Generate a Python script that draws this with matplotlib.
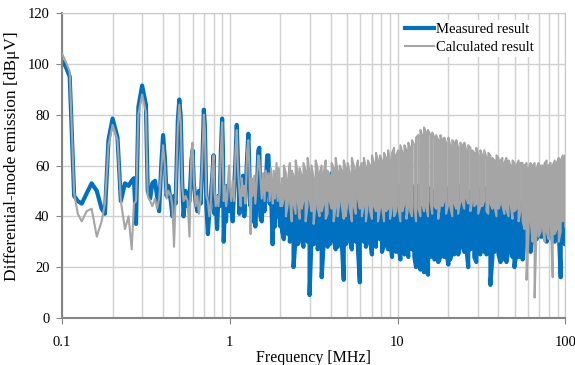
# differential-mode emission: measured vs calculated spectrum

import matplotlib
matplotlib.use("Agg")
import matplotlib.pyplot as plt
from matplotlib.ticker import FixedLocator, NullFormatter

plt.rcParams['font.family'] = ['Liberation Serif', 'DejaVu Serif']

# low band (0.1 - 2 MHz): single trace values [MHz], [dBuV]
freq_low = [0.100, 0.105, 0.111, 0.118, 0.124, 0.131, 0.140, 0.150, 0.161, 0.172,
            0.180, 0.189, 0.200, 0.214, 0.224, 0.237, 0.249, 0.260, 0.268, 0.276,
            0.285, 0.300, 0.316, 0.324, 0.335, 0.345, 0.358, 0.368, 0.379, 0.390,
            0.400, 0.410, 0.420, 0.430, 0.445, 0.455, 0.465, 0.475, 0.490, 0.500,
            0.510, 0.520, 0.530, 0.545, 0.560, 0.575, 0.590, 0.600, 0.610, 0.625,
            0.640, 0.655, 0.670, 0.685, 0.700, 0.710, 0.725, 0.740, 0.755, 0.770,
            0.785, 0.800, 0.810, 0.825, 0.840, 0.855, 0.870, 0.885, 0.900, 0.910,
            0.920, 0.935, 0.950, 0.965, 0.980, 0.990, 1.00, 1.02, 1.04, 1.06,
            1.08, 1.10, 1.12, 1.14, 1.16, 1.18, 1.20, 1.22, 1.24, 1.27,
            1.29, 1.31, 1.33, 1.35, 1.37, 1.40, 1.42, 1.45, 1.48, 1.50,
            1.52, 1.55, 1.58, 1.61, 1.64, 1.67, 1.70, 1.73, 1.76, 1.80,
            1.83, 1.86, 1.90, 1.93, 1.96, 2.00]
meas_low = [101, 99, 95, 48, 46, 45, 49, 53, 50, 43,
            41, 70, 78.5, 71, 46, 53, 52, 54, 55, 37,
            83, 91.5, 84, 50, 47, 53, 54, 48, 42, 60,
            72, 63, 48, 52, 46, 40, 48, 45, 78, 86,
            79, 54, 40, 50, 44, 46, 62, 66, 53, 46,
            42, 50, 45, 60, 82, 76, 44, 33, 42, 48,
            55, 64, 41, 46, 35, 48, 44, 66, 78.5, 66,
            30, 45, 38, 52, 44, 50, 42, 47, 38, 50,
            62, 76, 60, 41, 50, 44, 56, 40, 48, 64,
            72.5, 56, 44, 52, 38, 46, 36, 50, 66, 67,
            40, 38, 49, 42, 52, 64, 64, 45, 50, 29,
            44, 36, 48, 40, 52, 36]
calc_low = [104, 101, 97, 49, 41, 38, 42, 43, 32, 38,
            45, 68, 76, 70, 46, 35, 40, 27, 45, 46,
            80, 88, 81, 48, 46, 44, 47, 43, 47, 58,
            68, 60, 47, 50, 48, 44, 28, 47, 75, 84,
            77, 52, 46, 48, 46, 32, 66, 69, 55, 44,
            48, 41, 47, 62, 80, 74, 48, 46, 40, 45,
            58, 64, 50, 44, 48, 44, 50, 66, 77, 62,
            46, 52, 44, 47, 56, 60, 52, 46, 54, 46,
            65, 74, 58, 50, 44, 55, 48, 52, 45, 66,
            70, 58, 33, 55, 48, 56, 45, 54, 64, 62,
            56, 47, 57, 46, 58, 50, 57, 46, 59, 45,
            58, 47, 61, 46, 59, 44]

# high band (2 - 100 MHz): dense spectrum, upper and lower swing per point
freq_high = [2.05, 2.1, 2.16, 2.22, 2.28, 2.34, 2.4, 2.47, 2.54, 2.61,
             2.68, 2.75, 2.83, 2.91, 2.99, 3.07, 3.16, 3.25, 3.34, 3.43,
             3.53, 3.63, 3.73, 3.83, 3.94, 4.05, 4.16, 4.28, 4.4, 4.52,
             4.65, 4.78, 4.91, 5.05, 5.19, 5.34, 5.49, 5.64, 5.8, 5.96,
             6.13, 6.3, 6.48, 6.66, 6.85, 7.04, 7.24, 7.44, 7.65, 7.86,
             8.08, 8.31, 8.54, 8.78, 9.03, 9.28, 9.54, 9.81, 10.1, 10.4,
             10.7, 11.0, 11.3, 11.6, 11.9, 12.2, 12.6, 12.9, 13.3, 13.7,
             14.0, 14.4, 14.8, 15.2, 15.7, 16.1, 16.6, 17.0, 17.5, 18.0,
             18.5, 19.0, 19.5, 20.1, 20.6, 21.2, 21.8, 22.4, 23.0, 23.7,
             24.3, 25.0, 25.7, 26.4, 27.2, 27.9, 28.7, 29.5, 30.3, 31.2,
             32.0, 32.9, 33.9, 34.8, 35.8, 36.8, 37.8, 38.9, 40.0, 41.1,
             42.2, 43.4, 44.6, 45.9, 47.2, 48.5, 49.8, 51.2, 52.7, 54.1,
             55.7, 57.2, 58.8, 60.5, 62.2, 63.9, 65.7, 67.5, 69.4, 71.4,
             73.4, 75.4, 77.5, 79.7, 81.9, 84.2, 86.6, 89.0, 91.5, 94.0,
             96.7, 99.4, 100]
calc_top = [55, 60, 57, 54, 61, 58, 56, 62, 57, 59,
            56, 61, 58, 63, 57, 60, 55, 62, 59, 57,
            60, 57, 62, 58, 56, 61, 59, 63, 57, 60,
            58, 62, 59, 61, 57, 63, 60, 58, 62, 59,
            61, 63, 59, 62, 60, 64, 61, 65, 62, 64,
            62, 65, 63, 66, 62, 65, 67, 64, 66, 68,
            65, 68, 66, 69, 67, 70, 68, 71, 72, 74,
            72, 75, 73, 74, 72, 73, 71, 72, 70, 72,
            70, 71, 69, 71, 68, 70, 69, 70, 67, 69,
            68, 69, 66, 68, 67, 66, 65, 67, 64, 66,
            64, 66, 63, 65, 64, 63, 62, 64, 63, 62,
            63, 61, 63, 62, 60, 62, 61, 60, 62, 61,
            61, 60, 61, 59, 61, 60, 61, 59, 61, 60,
            60, 61, 62, 60, 61, 60, 62, 61, 63, 62,
            64, 63, 64]
calc_bot = [44, 47, 40, 45, 47, 38, 45, 41, 46, 39,
            43, 46, 38, 44, 47, 42, 37, 45, 43, 40,
            42, 45, 39, 41, 46, 43, 38, 44, 40, 46,
            44, 39, 40, 46, 43, 38, 44, 41, 47, 43,
            40, 44, 38, 45, 42, 39, 44, 42, 38, 43,
            44, 38, 42, 43, 39, 44, 40, 42, 44, 38,
            42, 45, 39, 44, 42, 40, 44, 38, 43, 40,
            45, 42, 44, 40, 46, 41, 44, 43, 39, 45,
            44, 46, 41, 45, 44, 40, 45, 43, 41, 46,
            46, 43, 47, 45, 42, 46, 44, 45, 41, 44,
            44, 46, 42, 41, 45, 43, 44, 40, 43, 45,
            44, 41, 43, 40, 45, 39, 42, 43, 38, 42,
            38, 35, 15, 33, 38, 30, 8, 36, 32, 34,
            36, 30, 34, 31, 38, 16, 33, 35, 30, 34,
            38, 40, 36]
meas_top = [50, 52, 48, 54, 51, 49, 53, 50, 55, 52,
            51, 49, 53, 50, 48, 52, 54, 50, 49, 53,
            50, 53, 51, 48, 52, 57, 50, 49, 54, 51,
            52, 50, 54, 51, 49, 53, 52, 50, 48, 51,
            53, 51, 50, 54, 49, 52, 55, 50, 51, 49,
            49, 52, 50, 48, 51, 53, 49, 50, 52, 48,
            51, 49, 50, 53, 48, 52, 49, 50, 52, 48,
            50, 47, 52, 49, 51, 48, 50, 53, 49, 51,
            50, 52, 48, 51, 49, 53, 50, 48, 52, 49,
            51, 49, 52, 50, 48, 51, 49, 50, 47, 51,
            50, 48, 51, 49, 47, 50, 48, 51, 49, 47,
            48, 47, 49, 46, 48, 45, 47, 46, 48, 45,
            45, 44, 46, 43, 45, 44, 46, 43, 44, 45,
            44, 43, 44, 42, 43, 42, 44, 43, 42, 41,
            42, 43, 44]
meas_bot = [34, 31, 36, 33, 30, 35, 20, 32, 29, 34,
            31, 28, 33, 30, 9, 32, 29, 34, 27, 31,
            16, 30, 32, 28, 29, 33, 31, 27, 28, 32,
            30, 15, 29, 33, 31, 27, 32, 30, 28, 14,
            32, 30, 28, 33, 31, 25, 30, 28, 32, 31,
            26, 29, 31, 27, 30, 24, 28, 26, 30, 23,
            27, 25, 28, 24, 30, 27, 24, 20, 23, 19,
            22, 18, 20, 17, 24, 26, 23, 25, 22, 24,
            27, 24, 26, 21, 23, 28, 25, 27, 25, 29,
            30, 26, 28, 20, 27, 29, 24, 22, 26, 25,
            28, 26, 25, 27, 13, 24, 26, 30, 25, 22,
            23, 25, 22, 27, 28, 24, 20, 26, 24, 29,
            23, 31, 30, 34, 26, 33, 34, 31, 35, 32,
            32, 34, 30, 33, 36, 31, 30, 32, 35, 16,
            31, 29, 30]


def trace(f_lo, v_lo, f_hi, top, bot):
    # one continuous trace; in the dense band each point swings top<->bottom
    xs, ys = list(f_lo), list(v_lo)
    for i, f in enumerate(f_hi):
        pair = (top[i], bot[i]) if i % 2 == 0 else (bot[i], top[i])
        xs += [f, f]
        ys += list(pair)
    return xs, ys


mx, my = trace(freq_low, meas_low, freq_high, meas_top, meas_bot)
cx, cy = trace(freq_low, calc_low, freq_high, calc_top, calc_bot)

fig = plt.figure(figsize=(5.75, 3.65), dpi=100)
ax = fig.add_axes([0.108, 0.129, 0.875, 0.835])

ax.plot(mx, my, color="#0070C0", lw=3.0, label="Measured result", zorder=2)
ax.plot(cx, cy, color="#A5A5A5", lw=1.5, label="Calculated result", zorder=3)

ax.set_xscale("log")
ax.set_xlim(0.1, 100)
ax.set_ylim(0, 120)
ax.set_yticks(range(0, 121, 20))
ax.set_xticks([0.1, 1, 10, 100])
ax.set_xticklabels(["0.1", "1", "10", "100"])
minors = [m * d for d in (0.1, 1, 10) for m in range(2, 10)]
ax.xaxis.set_minor_locator(FixedLocator(minors))
ax.xaxis.set_minor_formatter(NullFormatter())

ax.grid(True, which="both", axis="x", color="#D0D0D0", lw=1.0, zorder=0)
ax.grid(True, which="major", axis="y", color="#D0D0D0", lw=1.0, zorder=0)
ax.set_axisbelow(True)

for s in ("top", "right"):
    ax.spines[s].set_color("#C8C8C8")
for s in ("left", "bottom"):
    ax.spines[s].set_color("#868686")
    ax.spines[s].set_linewidth(1.5)

ax.tick_params(axis="both", which="major", length=4, color="#868686", labelsize=10.5)
ax.tick_params(axis="y", which="major", pad=5)
ax.tick_params(axis="x", which="major", pad=9)
ax.tick_params(axis="x", which="minor", length=0)

ax.set_xlabel("Frequency [MHz]", fontsize=11.5, labelpad=1)
ax.set_ylabel("Differential-mode emission [dB\u03bcV]", fontsize=12.5)
ax.yaxis.set_label_coords(-0.083, 0.531)

leg = ax.legend(loc="upper right", bbox_to_anchor=(0.944, 0.978), fontsize=10.5,
                frameon=True, fancybox=False, handlelength=2.0, handletextpad=0.15,
                labelspacing=0.35, borderpad=0.2, borderaxespad=0.0)
leg.get_frame().set_facecolor("white")
leg.get_frame().set_edgecolor("none")
leg.get_frame().set_alpha(1)

fig.savefig("out.png", dpi=100)
